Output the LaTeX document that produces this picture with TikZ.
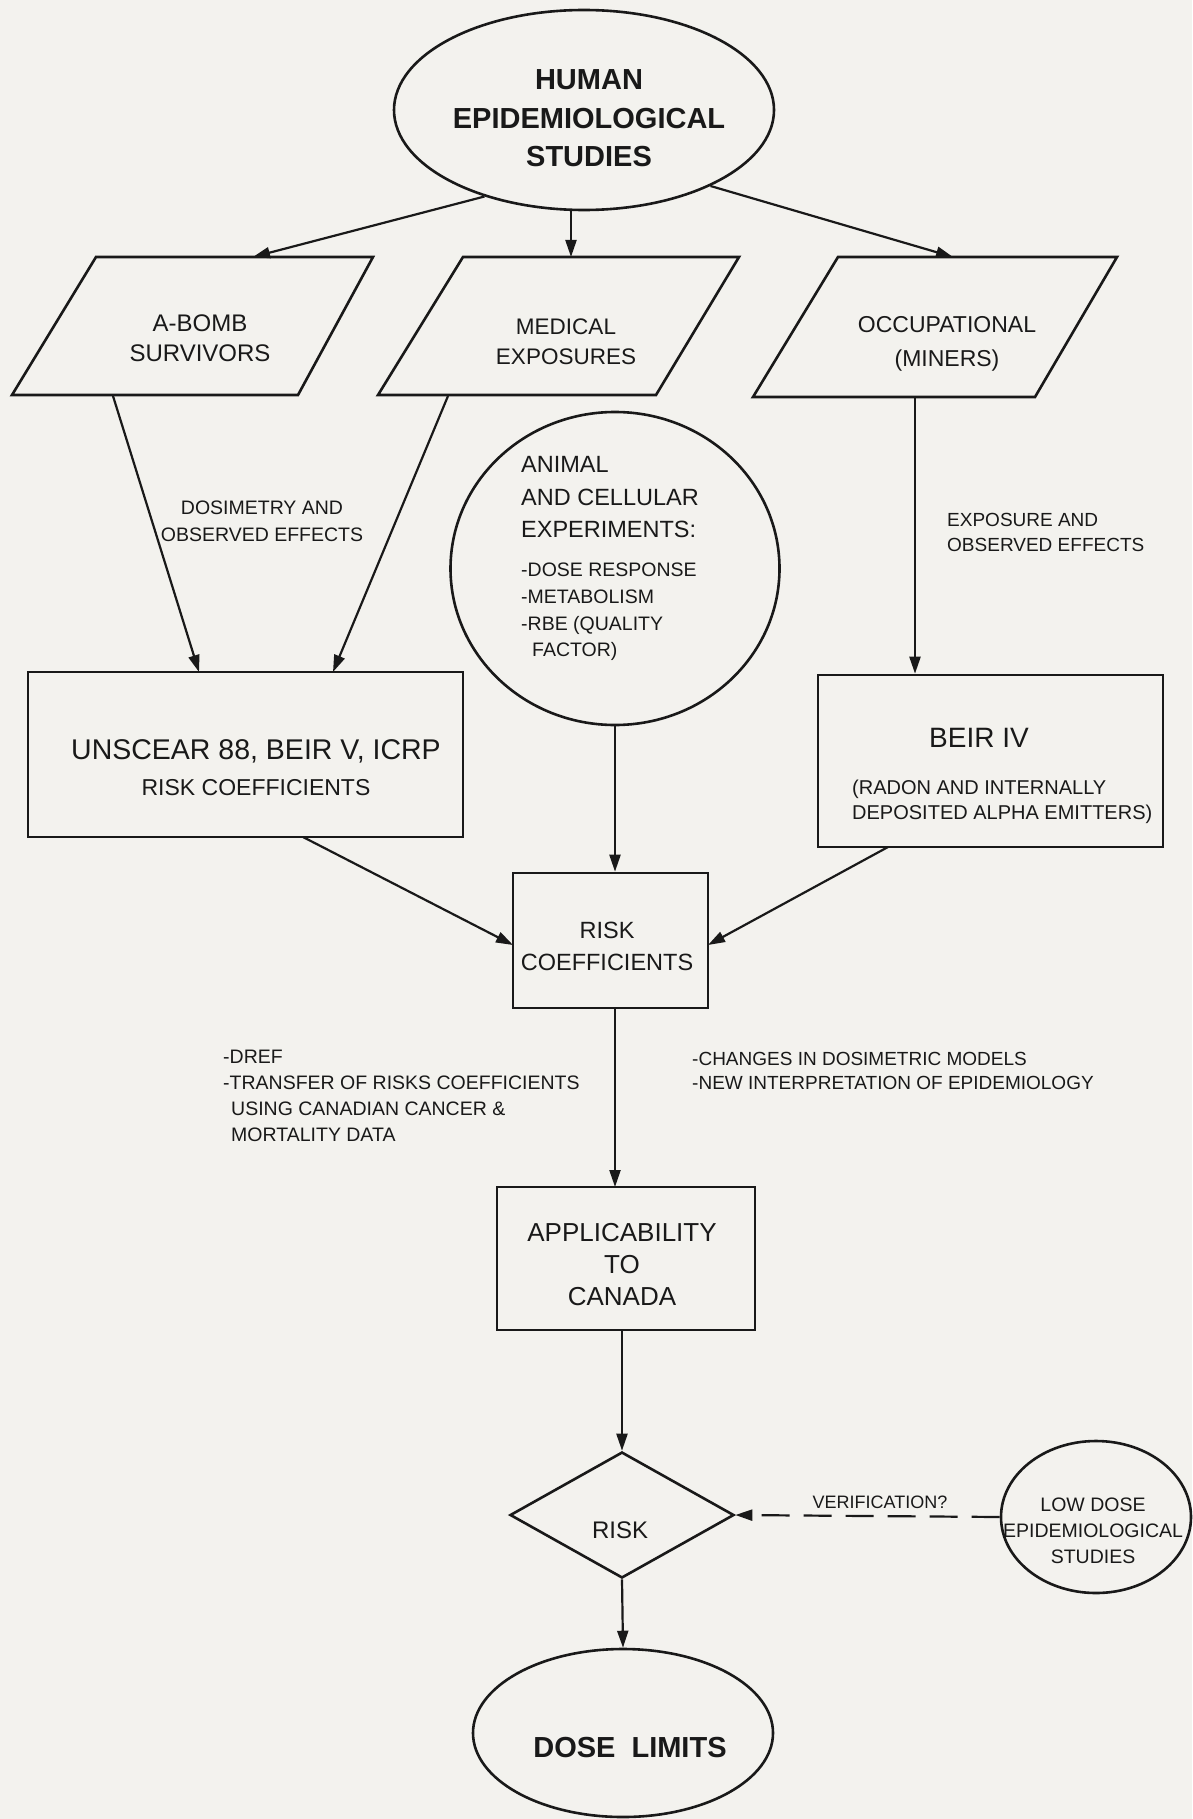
\documentclass[tikz,border=0pt]{standalone}
\usepackage{fontspec}
\setmainfont{Liberation Sans}
\usetikzlibrary{shapes.geometric,arrows.meta}
\definecolor{paper}{RGB}{243,242,238}
\definecolor{ink}{RGB}{25,25,25}
\begin{document}
\begin{tikzpicture}[x=1pt,y=-1pt,
  blk/.style={draw=ink, line width=2.6pt, inner sep=0pt},
  arr/.style={draw=ink, line width=2.2pt, -{Triangle[length=17pt,width=11pt]}},
  txt/.style={text=ink, inner sep=0pt, align=center},
  ltxt/.style={text=ink, inner sep=0pt, align=left, anchor=west}]
\useasboundingbox (0,0) rectangle (1192,1819);
\fill[paper] (0,0) rectangle (1192,1819);

% ---------- shapes ----------
\node[blk, ellipse, minimum width=380pt, minimum height=200pt] (human) at (584,110) {};

\coordinate (ab-nw) at (96,257);  \coordinate (ab-ne) at (373,257);
\coordinate (ab-se) at (298,395); \coordinate (ab-sw) at (12,395);
\draw[blk, line join=miter] (ab-nw) -- (ab-ne) -- (ab-se) -- (ab-sw) -- cycle;

\coordinate (me-nw) at (463,257);  \coordinate (me-ne) at (739,257);
\coordinate (me-se) at (656,395);  \coordinate (me-sw) at (378,395);
\draw[blk, line join=miter] (me-nw) -- (me-ne) -- (me-se) -- (me-sw) -- cycle;

\coordinate (oc-nw) at (838,257);  \coordinate (oc-ne) at (1117,257);
\coordinate (oc-se) at (1035,397); \coordinate (oc-sw) at (753,397);
\draw[blk, line join=miter] (oc-nw) -- (oc-ne) -- (oc-se) -- (oc-sw) -- cycle;

\node[blk, ellipse, minimum width=329pt, minimum height=313pt] (animal) at (615,568.5) {};
\node[blk, rectangle, minimum width=435pt, minimum height=165pt] (unscear) at (245.5,754.5) {};
\node[blk, rectangle, minimum width=345pt, minimum height=172pt] (beir) at (990.5,761) {};
\node[blk, rectangle, minimum width=195pt, minimum height=135pt] (riskc) at (610.5,940.5) {};
\node[blk, rectangle, minimum width=258pt, minimum height=143pt] (appl) at (626,1258.5) {};
\node[blk, diamond, minimum width=224pt, minimum height=126pt] (risk) at (622,1515) {};
\node[blk, ellipse, minimum width=190pt, minimum height=152pt] (low) at (1096,1517) {};
\node[blk, ellipse, minimum width=300pt, minimum height=168pt] (dose) at (623,1733) {};

% ---------- texts ----------
\node[txt, font=\bfseries\fontsize{29}{38.5}\selectfont] (human-t) at (589,118.5) {HUMAN\\EPIDEMIOLOGICAL\\STUDIES};
\node[txt, font=\fontsize{24}{30}\selectfont] (ab-t) at (200,338) {A-BOMB\\SURVIVORS};
\node[txt, font=\fontsize{22.5}{30}\selectfont] (me-t) at (566,342) {MEDICAL\\EXPOSURES};
\node[txt, font=\fontsize{23}{34}\selectfont] (oc-t) at (947,344) {OCCUPATIONAL\\(MINERS)};
\node[txt, font=\fontsize{19.5}{27}\selectfont] (dos-t) at (262,521.5) {DOSIMETRY AND\\OBSERVED EFFECTS};
\node[ltxt, font=\fontsize{23.5}{32.5}\selectfont] (animal-t) at (521,497.5) {ANIMAL\\AND CELLULAR\\EXPERIMENTS:};
\node[ltxt, font=\fontsize{19.5}{26.7}\selectfont] (animal-l) at (521,612) {-DOSE RESPONSE\\-METABOLISM\\-RBE (QUALITY\\\hspace*{11pt}FACTOR)};
\node[ltxt, font=\fontsize{19}{25}\selectfont] (exp-t) at (947,532.5) {EXPOSURE AND\\OBSERVED EFFECTS};
\node[txt, anchor=base, font=\fontsize{28.5}{34}\selectfont] (unscear-t) at (256,759) {UNSCEAR 88, BEIR V, ICRP};
\node[txt, anchor=base, font=\fontsize{23}{28}\selectfont] (unscear-r) at (256,795) {RISK COEFFICIENTS};
\node[txt, anchor=base, font=\fontsize{28}{34}\selectfont] (beir-t) at (979,747) {BEIR IV};
\node[ltxt, font=\fontsize{20}{25}\selectfont] (beir-r) at (852,801.5) {(RADON AND INTERNALLY\\DEPOSITED ALPHA EMITTERS)};
\node[txt, font=\fontsize{23.5}{32}\selectfont] (riskc-t) at (607,946) {RISK\\COEFFICIENTS};
\node[ltxt, font=\fontsize{19.5}{26}\selectfont] (dref-t) at (223,1096) {-DREF\\-TRANSFER OF RISKS COEFFICIENTS\\\hspace*{8pt}USING CANADIAN CANCER \&\\\hspace*{8pt}MORTALITY DATA};
\node[ltxt, font=\fontsize{19}{24.5}\selectfont] (chg-t) at (692,1071) {-CHANGES IN DOSIMETRIC MODELS\\-NEW INTERPRETATION OF EPIDEMIOLOGY};
\node[txt, font=\fontsize{26}{32}\selectfont] (appl-t) at (622,1265) {APPLICABILITY\\TO\\CANADA};
\node[txt, anchor=base, font=\fontsize{24}{30}\selectfont] (risk-t) at (620,1538.6) {RISK};
\node[txt, anchor=base, font=\fontsize{18}{22}\selectfont] (ver-t) at (880,1508.4) {VERIFICATION?};
\node[txt, font=\fontsize{19.5}{26}\selectfont] (low-t) at (1093,1531) {LOW DOSE\\EPIDEMIOLOGICAL\\STUDIES};
\node[txt, anchor=base, font=\bfseries\fontsize{29}{34}\selectfont] (dose-t) at (630,1757.4) {DOSE\hspace{16pt}LIMITS};

% ---------- connector end points ----------
\coordinate (me-in) at (571,257);
\coordinate (oc-in) at (953,257);
\coordinate (ab-in) at (253,257);
\coordinate (ab-out) at (113,396);
\coordinate (me-out) at (448,396);
\coordinate (oc-out) at (915,397);
\coordinate (un-in1) at (199,672);
\coordinate (un-in2) at (333,672);
\coordinate (un-out) at (303,837);
\coordinate (beir-out) at (888,847);
\coordinate (rc-inl) at (513,945);
\coordinate (rc-inr) at (708,945);
\coordinate (rc-out) at (615,1008);
\coordinate (ap-in) at (615,1187);
\coordinate (ap-out) at (622,1330);

% ---------- connectors ----------
\draw[arr] (human.221) -- (ab-in);
\draw[arr] (human.south -| me-in) -- (me-in);
\draw[arr] (human.329) -- (oc-in);
\draw[arr] (ab-out) -- (un-in1);
\draw[arr] (me-out) -- (un-in2);
\draw[arr] (oc-out) -- (oc-out |- beir.north);
\draw[arr] (animal.south) -- (animal.south |- riskc.north);
\draw[arr] (un-out) -- (rc-inl);
\draw[arr] (beir-out) -- (rc-inr);
\draw[arr] (rc-out) -- (ap-in);
\draw[arr] (ap-out) -- (risk.north);
\draw[arr, dash pattern=on 28pt off 14pt] (low.west) -- (risk.east);
\draw[arr] (risk.south) -- (dose.north);
\end{tikzpicture}
\end{document}
